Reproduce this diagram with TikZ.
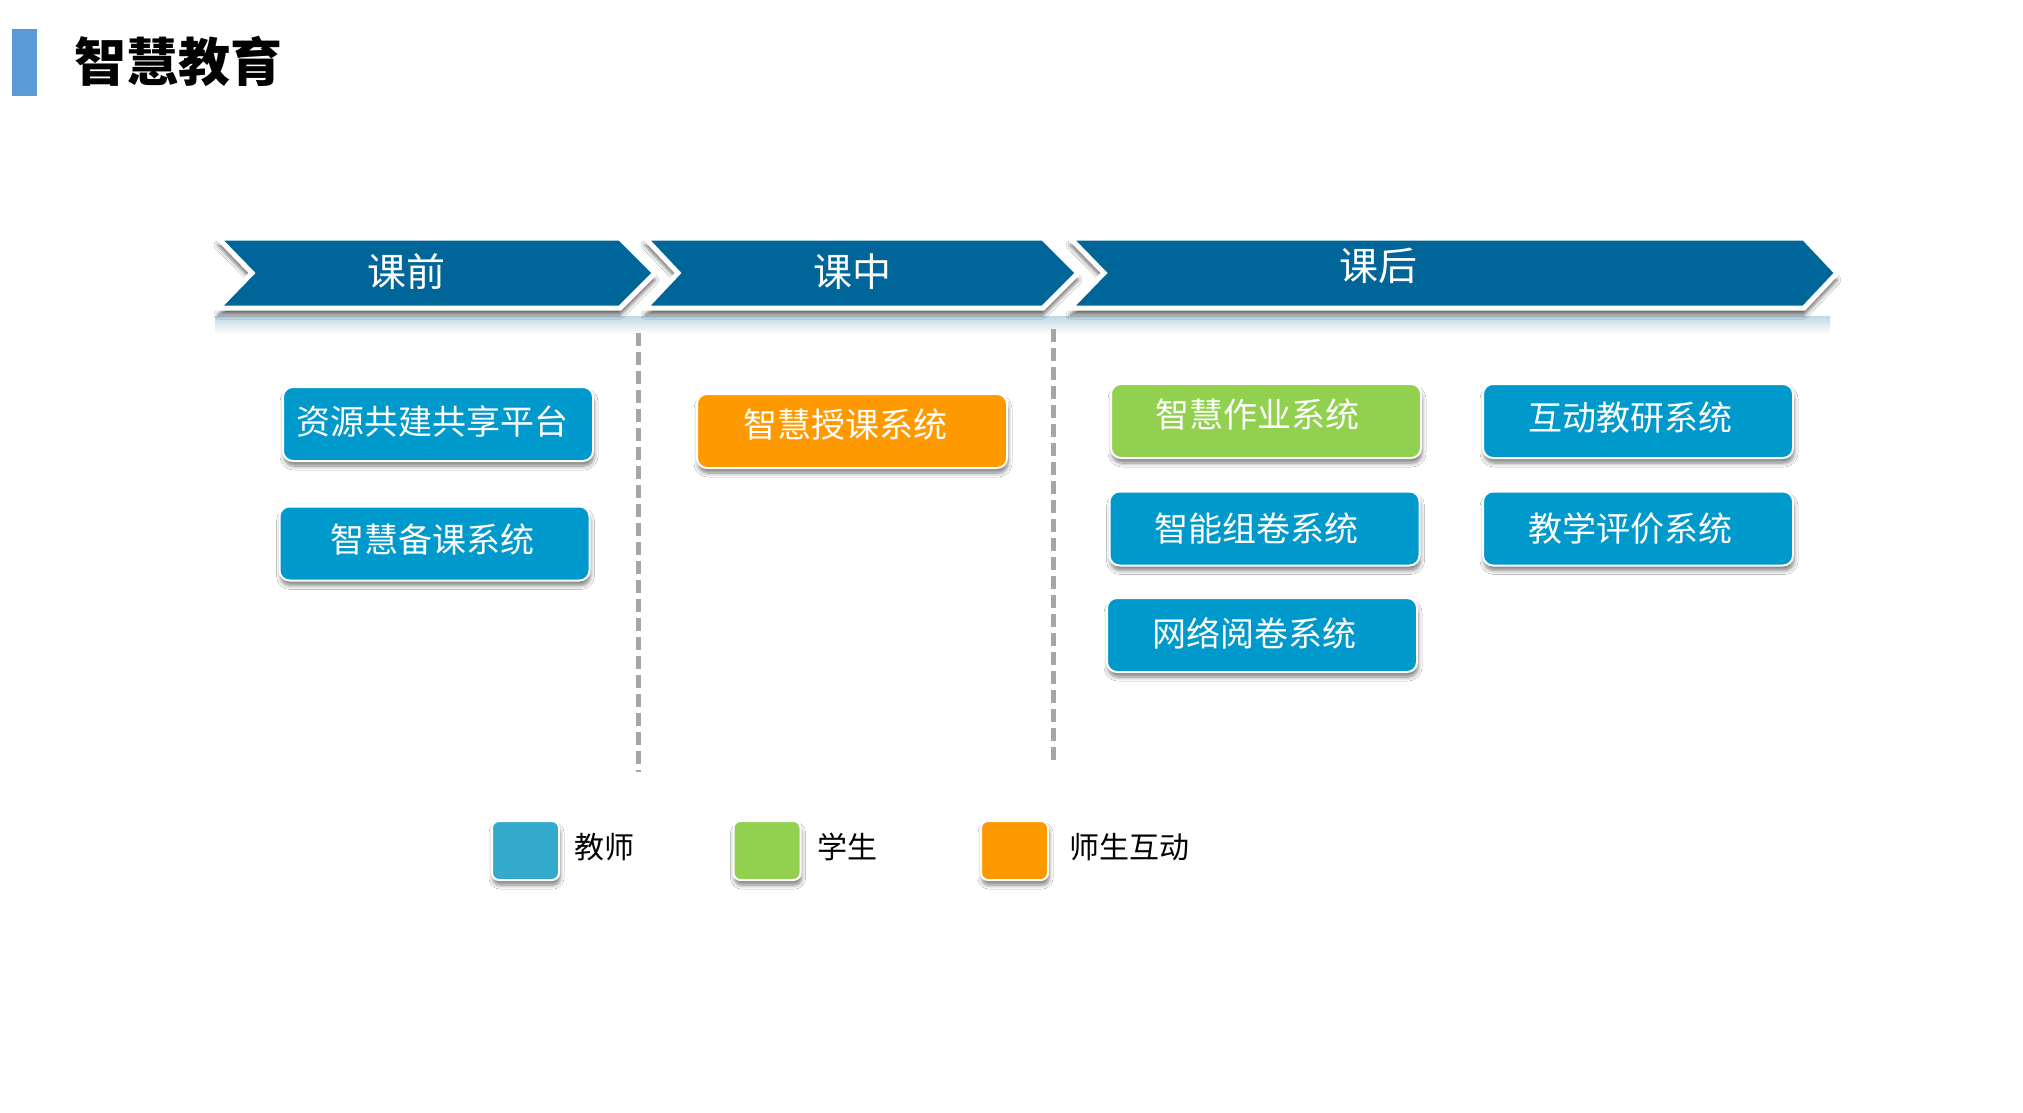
\documentclass[tikz,border=0pt]{standalone}
\usepackage{fontspec}
\setmainfont{Noto Sans CJK SC}
\usetikzlibrary{shadows.blur}
\definecolor{chevblue}{RGB}{0,102,153}
\definecolor{boxblue}{RGB}{0,153,204}
\definecolor{legblue}{RGB}{51,169,204}
\definecolor{boxgreen}{RGB}{146,208,80}
\definecolor{boxorange}{RGB}{255,153,0}
\definecolor{titleblue}{RGB}{91,155,213}
\definecolor{divgray}{RGB}{166,166,166}
\newcommand\bxt[3]{\vphantom{#3}\smash{\raisebox{#2pt}{#3\kern#1pt}}}
\tikzset{
  chev/.style={fill=chevblue, draw=white, line width=5pt, line join=miter,
    blur shadow={shadow xshift=0pt, shadow yshift=-7pt, shadow opacity=60, shadow blur radius=4pt, shadow blur steps=6}},
  reflect/.style={top color=chevblue!25, bottom color=white, draw=none},
  chevtxt/.style={text=white, font=\fontsize{39pt}{46pt}\selectfont, inner sep=0pt},
  sysbox/.style={rounded corners=10pt, fill=#1, draw=white, line width=2pt,
    minimum width=310pt, minimum height=74pt, text=white, inner sep=0pt,
    font=\fontsize{34pt}{40pt}\selectfont,
    blur shadow={shadow xshift=1pt, shadow yshift=-5pt, shadow opacity=50, shadow blur radius=4pt, shadow blur steps=6}},
  legsq/.style={rounded corners=7pt, fill=#1, draw=white, line width=2pt,
    minimum width=67pt, minimum height=59pt, inner sep=0pt,
    blur shadow={shadow xshift=1pt, shadow yshift=-5pt, shadow opacity=50, shadow blur radius=4pt, shadow blur steps=6}},
  legtxt/.style={text=black, font=\fontsize{30pt}{36pt}\selectfont, inner sep=0pt},
  divider/.style={divgray, line width=5pt, dash pattern=on 13pt off 6pt}
}
\begin{document}
\begin{tikzpicture}[x=1pt,y=-1pt]
\useasboundingbox (0,0) rectangle (2023,1113);
\fill[white] (0,0) rectangle (2023,1113);

% title
\node[fill=titleblue, minimum width=25pt, minimum height=67pt, inner sep=0pt] (bar) at (24.5,62.5) {};
\node[font=\bfseries\fontsize{52pt}{60pt}\selectfont, inner sep=0pt] (title) at (178,61) {智慧教育};

% reflections under chevrons
\shade[reflect] (215,316) rectangle (645,334);
\shade[reflect] (645,316) rectangle (1068,334);
\shade[reflect] (1068,316) rectangle (1830,334);

% chevrons
\draw[chev] (218,238) -- (620,238) -- (655,273) -- (620,308) -- (218,308) -- (252,273) -- cycle;
\draw[chev] (645,238) -- (1043,238) -- (1078,273) -- (1043,308) -- (645,308) -- (678,273) -- cycle;
\draw[chev] (1070,238) -- (1804,238) -- (1837,273) -- (1804,308) -- (1070,308) -- (1104,273) -- cycle;
\node[chevtxt] (c1) at (406,272) {课前};
\node[chevtxt] (c2) at (852,272) {课中};
\node[chevtxt] (c3) at (1378,266) {课后};

% dividers
\coordinate (d1s) at (638,333);
\coordinate (d1e) at (638,772);
\coordinate (d2s) at (1053,329);
\coordinate (d2e) at (1053,765);
\draw[divider] (d1s) -- (d1e);
\draw[divider] (d2s) -- (d2e);

% systems
\node[sysbox=boxblue] (b1) at (438,424) {\bxt{12}{3}{资源共建共享平台}};
\node[sysbox=boxblue] (b2) at (434.5,543.5) {\bxt{5}{4}{智慧备课系统}};
\node[sysbox=boxorange] (b3) at (852,431) {\bxt{14}{6}{智慧授课系统}};
\node[sysbox=boxgreen] (b4) at (1266,421) {\bxt{18}{6}{智慧作业系统}};
\node[sysbox=boxblue] (b5) at (1638,421) {\bxt{16}{3}{互动教研系统}};
\node[sysbox=boxblue] (b6) at (1264.5,528.5) {\bxt{16}{0}{智能组卷系统}};
\node[sysbox=boxblue] (b7) at (1638,528.5) {\bxt{16}{0}{教学评价系统}};
\node[sysbox=boxblue] (b8) at (1262,635) {\bxt{16}{2}{网络阅卷系统}};

% legend
\node[legsq=legblue] (l1) at (525.5,850.5) {};
\node[legtxt] (t1) at (604.5,847) {教师};
\node[legsq=boxgreen] (l2) at (767,850.5) {};
\node[legtxt] (t2) at (847,847) {学生};
\node[legsq=boxorange] (l3) at (1014.5,850.5) {};
\node[legtxt] (t3) at (1129.5,847) {师生互动};
\end{tikzpicture}
\end{document}
